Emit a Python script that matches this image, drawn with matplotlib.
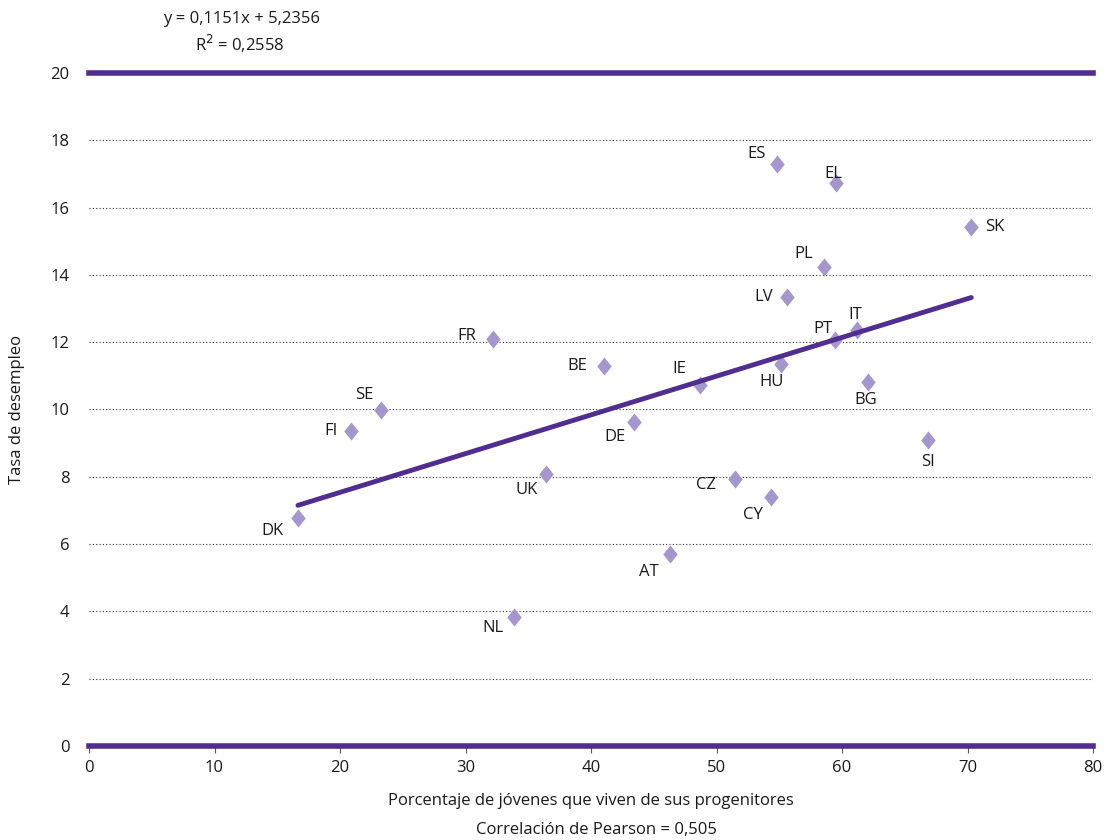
import matplotlib
matplotlib.use("Agg")
import matplotlib.pyplot as plt
from matplotlib.path import Path
import numpy as np

plt.rcParams['font.family'] = ['Open Sans', 'DejaVu Sans']

countries = ["DK", "FI", "SE", "FR", "UK", "NL", "BE", "DE", "AT", "IE", "CZ",
             "CY", "ES", "HU", "LV", "PL", "EL", "PT", "IT", "BG", "SI", "SK"]
x_vals = [16.65, 20.9, 23.3, 32.2, 36.4, 33.9, 41.0, 43.4, 46.3, 48.7, 51.5,
          54.35, 54.8, 55.15, 55.6, 58.6, 59.5, 59.45, 61.2, 62.1, 66.85, 70.3]
y_vals = [6.78, 9.36, 9.98, 12.1, 8.08, 3.83, 11.29, 9.63, 5.71, 10.73, 7.93,
          7.40, 17.30, 11.35, 13.34, 14.23, 16.73, 12.07, 12.36, 10.82, 9.09, 15.42]
# label offsets (points) and alignment
label_pos = {
    "DK": (-10, -4, "right", "top"), "FI": (-10, 0, "right", "center"),
    "SE": (-6, 5, "right", "bottom"), "FR": (-12, 2, "right", "center"),
    "UK": (-6, -6, "right", "top"), "NL": (-8, -2, "right", "top"),
    "BE": (-12, 0, "right", "center"), "DE": (-6, -5, "right", "top"),
    "AT": (-8, -7, "right", "top"), "IE": (-10, 6, "right", "bottom"),
    "CZ": (-14, -4, "right", "center"), "CY": (-6, -7, "right", "top"),
    "ES": (-8, 1, "right", "bottom"), "HU": (2, -7, "right", "top"),
    "LV": (-10, 0, "right", "center"), "PL": (-8, 4, "right", "bottom"),
    "EL": (-2, 1, "center", "bottom"), "PT": (-2, 2, "right", "bottom"),
    "IT": (-6, 5, "left", "bottom"), "BG": (-2, -7, "center", "top"),
    "SI": (0, -10, "center", "top"), "SK": (10, 0, "left", "center"),
}

slope, intercept = 0.1151, 5.2356
x_ticks = [0, 10, 20, 30, 40, 50, 60, 70, 80]
y_ticks = [0, 2, 4, 6, 8, 10, 12, 14, 16, 18, 20]

marker_color = "#A597CB"
line_color = "#512D8F"
text_color = "#1a1a1a"

diamond = Path([(0, 1), (0.8, 0), (0, -1), (-0.8, 0), (0, 1)],
               [Path.MOVETO, Path.LINETO, Path.LINETO, Path.LINETO, Path.CLOSEPOLY])

fig = plt.figure(figsize=(11.04, 8.4), dpi=100)
ax = fig.add_axes([89/1104, 94/840, (1093-89)/1104, (746-73)/840])

ax.set_xlim(0, 80)
ax.set_ylim(0, 20)

for yt in y_ticks[1:-1]:
    ax.axhline(yt, color="#333333", linestyle=(0, (1, 2)), linewidth=0.8, zorder=1)
ax.axhline(0, color=line_color, linewidth=4, zorder=3, clip_on=False)
ax.axhline(20, color=line_color, linewidth=4, zorder=3, clip_on=False)

ax.scatter(x_vals, y_vals, marker=diamond, s=170, color=marker_color, zorder=4,
           linewidths=0)

xl = np.array([min(x_vals), max(x_vals)])
ax.plot(xl, slope * xl + intercept, color=line_color, linewidth=3.5,
        solid_capstyle="round", zorder=5)

for c, xv, yv in zip(countries, x_vals, y_vals):
    dx, dy, ha, va = label_pos[c]
    ax.annotate(c, (xv, yv), xytext=(dx, dy), textcoords="offset points",
                ha=ha, va=va, fontsize=12, color=text_color, zorder=6)

for s in ["top", "right", "left", "bottom"]:
    ax.spines[s].set_visible(False)

ax.set_xticks(x_ticks)
ax.set_yticks(y_ticks)
ax.tick_params(axis="x", length=5, color="#555555", labelsize=12, pad=5, labelcolor=text_color)
ax.tick_params(axis="y", length=0, labelsize=12, pad=14, labelcolor=text_color)

ax.set_xlabel("Porcentaje de jóvenes que viven de sus progenitores", fontsize=12,
              color=text_color, labelpad=12)
ax.set_ylabel("Tasa de desempleo", fontsize=12, color=text_color, labelpad=18)

fig.text(596/1104, 1 - 830/840, "Correlación de Pearson = 0,505", ha="center",
         va="center", fontsize=12, color=text_color)
fig.text(242/1104, 1 - 19/840, "y = 0,1151x + 5,2356", ha="center", va="center",
         fontsize=12, color=text_color)
fig.text(240/1104, 1 - 44/840, "R$^2$ = 0,2558", ha="center", va="center",
         fontsize=12, color=text_color)

fig.savefig("out.png", dpi=100)
